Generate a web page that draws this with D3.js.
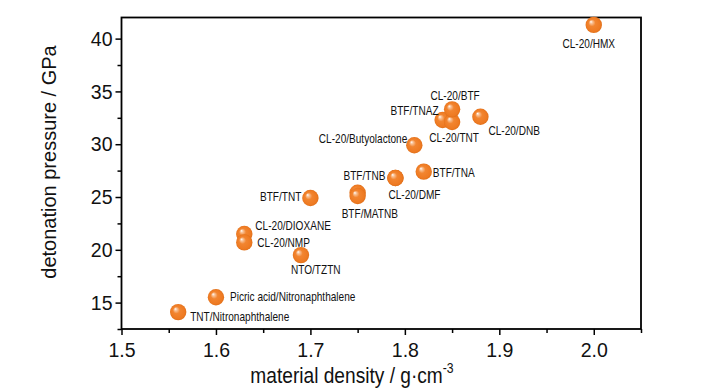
<!DOCTYPE html>
<html><head><meta charset="utf-8">
<script src="https://cdn.jsdelivr.net/npm/d3@7"></script>
<style>body{margin:0;background:#fff}svg{display:block}</style>
</head><body>
<svg id="chart" width="728" height="390"></svg>
<script>
const names = ["TNT/Nitronaphthalene","Picric acid/Nitronaphthalene","CL-20/DIOXANE","CL-20/NMP","NTO/TZTN","BTF/TNT","BTF/MATNB","BTF/MATNB (2)","BTF/TNB","CL-20/DMF","BTF/TNA","CL-20/Butyolactone","BTF/TNAZ","CL-20/TNT","CL-20/BTF","CL-20/DNB","CL-20/HMX"];
const density = [1.56,1.60,1.63,1.63,1.69,1.70,1.75,1.75,1.79,1.79,1.82,1.81,1.84,1.85,1.85,1.88,2.00];
const pressure = [14.1,15.5,21.5,20.7,19.5,24.9,25.4,25.1,26.8,26.8,27.4,29.9,32.3,32.1,33.3,32.6,41.3];
const xTicks = [1.5,1.6,1.7,1.8,1.9,2.0];
const yTicks = [15,20,25,30,35,40];
// label anchors: [dx, dy, anchor] relative to point
const labelPos = {
 "TNT/Nitronaphthalene":[12,9,"start"],
 "Picric acid/Nitronaphthalene":[14,4,"start"],
 "CL-20/DIOXANE":[11,-4,"start"],
 "CL-20/NMP":[13,5,"start"],
 "NTO/TZTN":[-10,19,"start"],
 "BTF/TNT":[-9,3,"end"],
 "BTF/MATNB":[-16,25,"start"],
 "BTF/TNB":[-10,2,"end"],
 "CL-20/DMF":[-7,21,"start"],
 "BTF/TNA":[9,5,"start"],
 "CL-20/Butyolactone":[-7,-2,"end"],
 "BTF/TNAZ":[-4,-5,"end"],
 "CL-20/TNT":[2,20,"middle"],
 "CL-20/BTF":[3,-9,"middle"],
 "CL-20/DNB":[8,18,"start"],
 "CL-20/HMX":[-5,23,"middle"]
};
const svg = d3.select("#chart");
const m = {l:121.5, r:641, t:17.5, b:329};
const x = d3.scaleLinear().domain([1.5,2.05]).range([m.l,m.r]);
const y = d3.scaleLinear().domain([12.5,42]).range([m.b,m.t]);
const font = "'Liberation Sans', Arial, sans-serif";

const defs = svg.append("defs");
const g = defs.append("radialGradient").attr("id","ball").attr("cx","0.5").attr("cy","0.5").attr("r","0.5").attr("fx","0.32").attr("fy","0.3");
g.append("stop").attr("offset","0").attr("stop-color","#ffffff");
g.append("stop").attr("offset","0.16").attr("stop-color","#f9c49a");
g.append("stop").attr("offset","0.42").attr("stop-color","#f28530");
g.append("stop").attr("offset","0.85").attr("stop-color","#ee7a22");
g.append("stop").attr("offset","1").attr("stop-color","#e0701a");

// axes
const xAxis = d3.axisBottom(x).tickValues(d3.range(1.5,2.051,0.05)).tickSize(6).tickFormat(d=>{const r=Math.round(d*100);return r%10===0? d3.format(".1f")(d):"";});
const xg = svg.append("g").attr("transform",`translate(0,${m.b})`).call(xAxis);
xg.selectAll(".tick line").attr("y2",(d)=>Math.round(d*100)%10===0?6:4);
const yAxis = d3.axisLeft(y).tickValues(d3.range(12.5,42.1,2.5)).tickSize(6).tickFormat(d=>d%5===0 && yTicks.includes(d)? d:"");
const yg = svg.append("g").attr("transform",`translate(${m.l},0)`).call(yAxis);
yg.selectAll(".tick line").attr("x2",d=>yTicks.includes(d)?-6:-4);
[xg,yg].forEach(a=>{
  a.select(".domain").remove();
  a.selectAll(".tick line").attr("stroke","#000").attr("stroke-width",1.5);
  a.selectAll("text").attr("font-family",font).attr("font-size",21).attr("fill","#111");
});
xg.selectAll("text").attr("dy","0.71em").attr("y",13).attr("transform","scale(0.93,1)");
yg.selectAll("text").attr("x",-9/0.93).attr("transform","scale(0.93,1)");
svg.append("rect").attr("x",m.l).attr("y",m.t).attr("width",m.r-m.l).attr("height",m.b-m.t).attr("fill","none").attr("stroke","#000").attr("stroke-width",1.8);

// titles
const xt = svg.append("text").attr("transform","translate(352,383) scale(0.87,1)").attr("text-anchor","middle").attr("font-family",font).attr("font-size",22).attr("fill","#111");
xt.append("tspan").text("material density / g·cm");
xt.append("tspan").attr("dy",-10).attr("font-size",14).text("-3");
svg.append("text").attr("transform","translate(56,162) rotate(-90)").attr("text-anchor","middle").attr("font-family",font).attr("font-size",20).attr("fill","#111").text("detonation pressure / GPa");

// points
const data = names.map((n,i)=>({name:n,x:density[i],y:pressure[i]}));
svg.append("g").selectAll("circle").data(data).join("circle")
  .attr("cx",d=>x(d.x)).attr("cy",d=>y(d.y)).attr("r",8.2).attr("fill","url(#ball)");
svg.append("g").selectAll("text").data(data.filter(d=>labelPos[d.name])).join("text")
  .attr("transform",d=>`translate(${x(d.x)+labelPos[d.name][0]},${y(d.y)+labelPos[d.name][1]}) scale(0.84,1)`)
  .attr("text-anchor",d=>labelPos[d.name][2])
  .attr("font-family",font).attr("font-size",12).attr("fill","#111").text(d=>d.name);
</script>
</body></html>
